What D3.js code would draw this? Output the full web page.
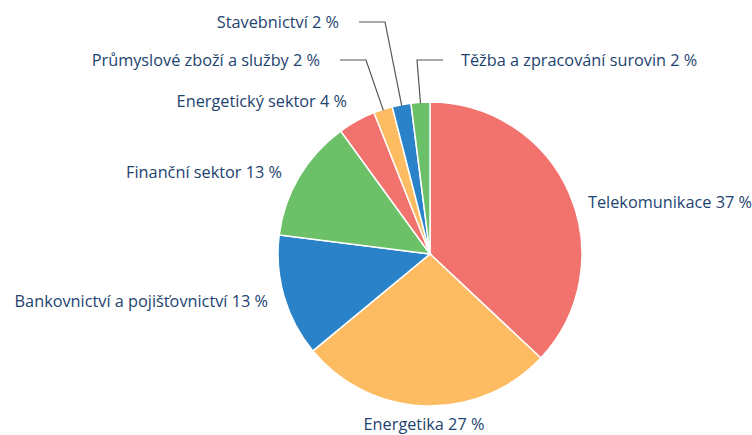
<!DOCTYPE html>
<html>
<head>
  <meta charset="utf-8">
  <script src="https://d3js.org/d3.v7.min.js"></script>
  <style>
    body { margin: 0; background: #fff; }
  </style>
</head>
<body>
  <svg width="752" height="435"></svg>
  <script>
    // sectors, clockwise from 12 o'clock
    const sectors = ["Telekomunikace", "Energetika", "Bankovnictví a pojišťovnictví", "Finanční sektor",
      "Energetický sektor", "Průmyslové zboží a služby", "Stavebnictví", "Těžba a zpracování surovin"];
    const shares = [37, 27, 13, 13, 4, 2, 2, 2];
    const palette = ["#f2726d", "#fdbb62", "#2a83c9", "#6cc168"];

    // label placement: anchor point, text-anchor, optional leader elbow
    const labelPos = {
      "Telekomunikace": { x: 588, y: 208, anchor: "start" },
      "Energetika": { x: 424, y: 430, anchor: "middle" },
      "Bankovnictví a pojišťovnictví": { x: 268, y: 307, anchor: "end" },
      "Finanční sektor": { x: 282, y: 178, anchor: "end" },
      "Energetický sektor": { x: 347, y: 107, anchor: "end" },
      "Průmyslové zboží a služby": { x: 320, y: 66, anchor: "end", elbow: [366, 60], tail: 340 },
      "Stavebnictví": { x: 339, y: 28, anchor: "end", elbow: [385, 22], tail: 359 },
      "Těžba a zpracování surovin": { x: 461, y: 66, anchor: "start", elbow: [417, 60], tail: 443 }
    };

    const data = sectors.map((s, i) => ({ name: s, value: shares[i] }));

    const cx = 430, cy = 254, radius = 152;
    const svg = d3.select("svg");
    const g = svg.append("g").attr("transform", "translate(" + cx + "," + cy + ")");

    const pie = d3.pie().value(d => d.value).sort(null);
    const arc = d3.arc().innerRadius(0).outerRadius(radius);
    const arcs = pie(data);

    const color = d3.scaleOrdinal().domain(sectors).range(palette);

    g.selectAll("path")
      .data(arcs)
      .enter()
      .append("path")
      .attr("d", arc)
      .attr("fill", d => color(d.data.name))
      .attr("stroke", "#fff")
      .attr("stroke-width", 1.5);

    // leader lines for the thin slices
    svg.selectAll(".leader")
      .data(arcs.filter(d => labelPos[d.data.name].elbow))
      .enter()
      .append("polyline")
      .attr("class", "leader")
      .attr("fill", "none")
      .attr("stroke", "#555")
      .attr("stroke-width", 1.2)
      .attr("points", d => {
        const p = labelPos[d.data.name];
        const mid = (d.startAngle + d.endAngle) / 2;
        const ex = cx + Math.sin(mid) * (radius - 1);
        const ey = cy - Math.cos(mid) * (radius - 1);
        return [[ex, ey], p.elbow, [p.tail, p.elbow[1]]].map(q => q.join(",")).join(" ");
      });

    svg.selectAll(".label")
      .data(arcs)
      .enter()
      .append("text")
      .attr("class", "label")
      .attr("x", d => labelPos[d.data.name].x)
      .attr("y", d => labelPos[d.data.name].y)
      .attr("text-anchor", d => labelPos[d.data.name].anchor)
      .style("font-family", "'Open Sans', sans-serif")
      .style("font-size", "16.3px")
      .style("fill", "#1d4370")
      .text(d => d.data.name + " " + d.data.value + " %");
  </script>
</body>
</html>
